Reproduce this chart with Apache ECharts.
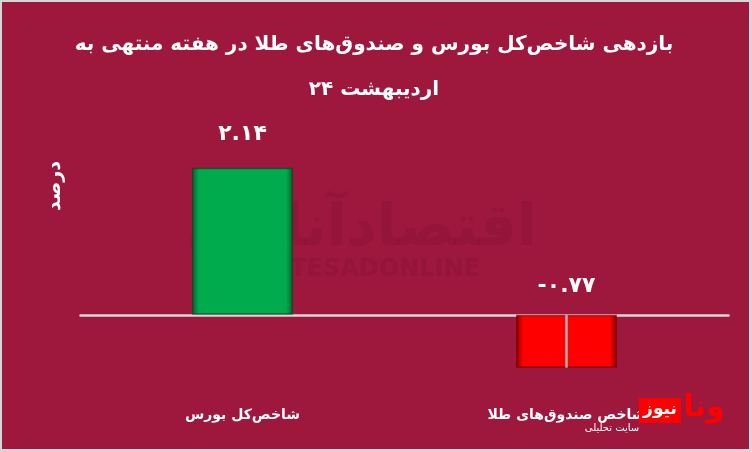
<!DOCTYPE html>
<html>
<head>
<meta charset="utf-8">
<script src="https://cdn.jsdelivr.net/npm/echarts@6/dist/echarts.min.js"></script>
<style>
html,body{margin:0;padding:0;background:#d6d6d6;width:752px;height:452px;overflow:hidden;}
#c{position:absolute;left:2px;top:2px;width:747px;height:447px;}
</style>
</head>
<body>
<div id="c"></div>
<script>
var titleLines = ['بازدهی شاخص‌کل بورس و صندوق‌های طلا در هفته منتهی به', '۲۴ اردیبهشت'];
var categories = ['شاخص‌کل بورس', 'شاخص صندوق‌های طلا'];
var values = [2.14, -0.77];
var yAxisName = 'درصد';

var FONT = 'DejaVu Sans';
function fa(n){
  var d='۰۱۲۳۴۵۶۷۸۹';
  return String(n).replace(/[0-9]/g,function(c){return d[+c];});
}
function grad(dark, bright){
  return {type:'linear',x:0,y:0,x2:1,y2:0,colorStops:[
    {offset:0,color:dark},{offset:0.07,color:bright},{offset:0.93,color:bright},{offset:1,color:dark}]};
}
var styles = [
  {color: grad('#00612c','#00ab4e'), borderColor:'rgba(0,70,30,0.6)'},
  {color: grad('#8a0000','#ff0000'), borderColor:'rgba(110,0,0,0.6)'}
];
var dists = [22, 18];

var chart = echarts.init(document.getElementById('c'));
chart.setOption({
  backgroundColor:'#9e173d',
  animation:false,
  graphic:[
    {type:'text',x:372,y:43,style:{text:titleLines[0],fill:'#fff',font:'bold 20px "DejaVu Sans"',align:'center',verticalAlign:'middle'}},
    {type:'text',x:372,y:88,style:{text:titleLines[1],fill:'#fff',font:'bold 20px "DejaVu Sans"',align:'center',verticalAlign:'middle'}},
    {type:'text',x:360,y:228,z:-1,style:{text:'اقتصادآنلاین',fill:'rgba(100,5,35,0.14)',font:'bold 58px "DejaVu Sans"',align:'center',verticalAlign:'middle'}},
    {type:'text',x:355,y:268,z:-1,style:{text:'EGHTESADONLINE',fill:'rgba(100,5,35,0.14)',font:'bold 24px "DejaVu Sans"',align:'center',verticalAlign:'middle'}},
    {type:'text',x:53,y:184,rotation:Math.PI/2,style:{text:yAxisName,fill:'#fff',font:'bold 19px "DejaVu Sans"',align:'center',verticalAlign:'middle'}},
    {type:'rect',shape:{x:637,y:396,width:42,height:25},style:{fill:'#ff0000'},z:10},
    {type:'text',x:658,y:408,z:11,style:{text:'نیوز',fill:'#fff',font:'bold 17px "DejaVu Sans"',align:'center',verticalAlign:'middle'}},
    {type:'text',x:702,y:406,z:11,style:{text:'ونا',fill:'#ff0000',font:'bold 30px "DejaVu Sans"',align:'center',verticalAlign:'middle'}},
    {type:'text',x:610,y:426,z:11,style:{text:'سایت تحلیلی',fill:'#ffffff',font:'10px "DejaVu Sans"',align:'center',verticalAlign:'middle'}}
  ],
  grid:{left:78.5,right:20.5,top:141,height:240.5},
  xAxis:[
    {type:'category',data:categories,axisLine:{onZero:true,lineStyle:{color:'#d9d9d9',width:2.5}},
     axisTick:{show:false},axisLabel:{show:false}},
    {type:'category',data:categories,position:'bottom',axisLine:{show:false,onZero:false},axisTick:{show:false},
     axisLabel:{color:'#fff',fontFamily:FONT,fontSize:14,fontWeight:'bold',margin:25}}
  ],
  yAxis:{type:'value',min:-1,max:2.5,show:false,splitLine:{show:false}},
  series:[{
    type:'bar',
    xAxisIndex:0,
    barWidth:101,
    data:values.map(function(v,i){
      return {value:v,itemStyle:{color:styles[i].color,borderColor:styles[i].borderColor,borderWidth:1.5},
        label:{show:true,position:'top',distance:dists[i]}};
    }),
    label:{show:true,color:'#fff',fontFamily:FONT,fontSize:22,fontWeight:'bold',
      formatter:function(p){return (p.value<0?'-':'')+fa(Math.abs(p.value).toFixed(2));}},
    markLine:{silent:true,symbol:'none',label:{show:false},
      lineStyle:{color:'#b0b0b0',width:2.5,type:'solid'},
      data:[[{coord:[1,0]},{coord:[1,values[1]]}]]}
  }]
});
</script>
</body>
</html>
